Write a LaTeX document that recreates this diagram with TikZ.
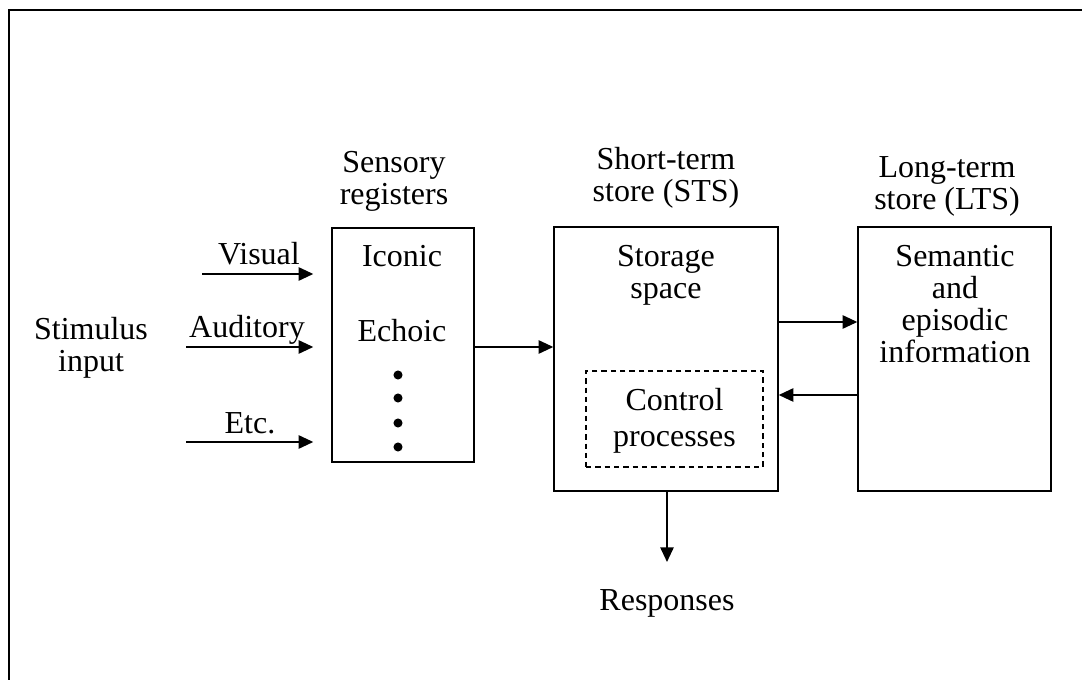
\documentclass[tikz,border=0pt]{standalone}
\usepackage{fontspec}
\setmainfont{Liberation Serif}
\usetikzlibrary{arrows.meta}

\tikzset{
  box/.style={draw,line width=1.1pt,inner sep=0pt},
  ctrlbox/.style={draw,dashed,dash pattern=on 4pt off 3pt,line width=1.1pt,inner sep=0pt},
  lbl/.style={align=center,inner sep=0pt,anchor=base,font=\fontsize{24}{24}\selectfont},
  arr/.style={line width=1.3pt,-{Triangle[length=11pt,width=10pt]}}
}

\begin{document}
\begin{tikzpicture}[x=0.75pt,y=-0.75pt]
\useasboundingbox (0,0) rectangle (1082,680);
\draw[line width=1.6pt] (9,700) -- (9,10) -- (1100,10);
% stores
\node[box,minimum width=106.5pt,minimum height=175.5pt] (sens) at (403,345) {};
\node[box,minimum width=168pt,minimum height=198pt] (sts) at (666,359) {};
\node[box,minimum width=144.75pt,minimum height=198pt] (lts) at (954.5,359) {};
\node[ctrlbox,minimum width=132.75pt,minimum height=72pt] (ctrl) at (674.5,419) {};
% headings (placed at the last baseline)
\node[lbl] (senshead) at (394,205) {Sensory\\registers};
\node[lbl] (stshead) at (666,202) {Short-term\\store (STS)};
\node[lbl] (ltshead) at (947,210) {Long-term\\store (LTS)};
% contents
\node[lbl] (iconic) at (402,267) {Iconic};
\node[lbl] (echoic) at (402,342) {Echoic};
\foreach \y in {375,398,423,447}
  \fill (398,\y) circle (3.4pt);
\node[lbl] (storage) at (666,299) {Storage\\space};
\node[lbl] (ctrltext) at (674.5,447) {Control\\[3pt]processes};
\node[lbl] (ltstext) at (955,363) {Semantic\\and\\episodic\\information};
\node[lbl] (stim) at (91,372) {Stimulus\\input};
\node[lbl] (resp) at (667,610) {Responses};
% inputs
\coordinate (vis) at (202,274);
\coordinate (aud) at (186,347);
\coordinate (etc) at (186,442);
\draw[arr,shorten >=13.5pt] (vis) -- (vis -| sens.west);
\draw[arr,shorten >=13.5pt] (aud) -- (aud -| sens.west);
\draw[arr,shorten >=13.5pt] (etc) -- (etc -| sens.west);
\node[lbl] (vislbl) at (259,265) {Visual};
\node[lbl] (audlbl) at (247,338) {Auditory};
\node[lbl] (etclbl) at (250,434) {Etc.};
% transfers
\coordinate (tr) at (0,347);
\coordinate (up) at (0,322);
\coordinate (dn) at (0,395);
\draw[arr] (sens.east |- tr) -- (sts.west |- tr);
\draw[arr] (sts.east |- up) -- (lts.west |- up);
\draw[arr] (lts.west |- dn) -- (sts.east |- dn);
\coordinate (resptip) at (667,562);
\draw[arr] (sts.south -| resptip) -- (resptip);
\end{tikzpicture}
\end{document}
